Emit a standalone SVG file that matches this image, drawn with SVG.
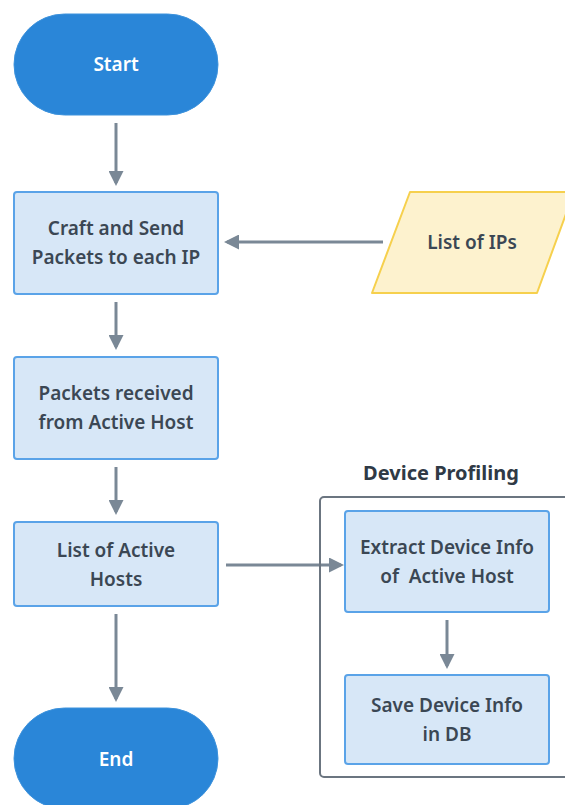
<svg xmlns="http://www.w3.org/2000/svg" width="565" height="805" viewBox="0 0 565 805">
<style>
.term{fill:#2A86D8;stroke:#3D92DC;stroke-width:1}
.proc{fill:#D7E7F7;stroke:#5AA3E8;stroke-width:2}
.data{fill:#FDF2CE;stroke:#F6D04D;stroke-width:2}
.grp{fill:none;stroke:#6B7580;stroke-width:2}
.t{font-family:"Noto Sans","DejaVu Sans",sans-serif;font-size:19px;font-weight:600;fill:#3B4754;text-anchor:middle;white-space:pre}
.h{font-family:"Noto Sans","DejaVu Sans",sans-serif;font-size:20px;font-weight:700;fill:#2F3A46;text-anchor:middle}
.tw{font-family:"Noto Sans","DejaVu Sans",sans-serif;font-size:19px;font-weight:600;fill:#FFFFFF;text-anchor:middle}
.c{stroke:#7A8896;stroke-width:3;fill:none;marker-end:url(#ah)}
</style>
<defs>
<marker id="ah" markerWidth="5" markerHeight="5" refX="4" refY="2.5" orient="auto" markerUnits="strokeWidth">
<path d="M0,0 L5,2.5 L0,5 Z" fill="#7A8896"/>
</marker>
</defs>
<rect width="565" height="805" fill="#FFFFFF"/>
<g id="connectors">
<line class="c" x1="116" y1="123" x2="116" y2="183"/>
<line class="c" x1="383" y1="242" x2="227" y2="242"/>
<line class="c" x1="116" y1="302" x2="116" y2="347"/>
<line class="c" x1="116" y1="467" x2="116" y2="512"/>
<line class="c" x1="226" y1="565" x2="341" y2="565"/>
<line class="c" x1="447" y1="620" x2="447" y2="666"/>
<line class="c" x1="116" y1="614" x2="116" y2="699"/>
</g>
<g id="device-profiling">
<rect class="grp" x="320" y="497" width="260" height="280" rx="4"/>
<text class="h" x="441" y="480">Device Profiling</text>
</g>
<g id="start">
<rect class="term" x="14" y="14" width="204" height="101" rx="50.5"/>
<text class="tw" x="116" y="71">Start</text>
</g>
<g id="craft">
<rect class="proc" x="14" y="192" width="204" height="102" rx="3"/>
<text class="t" x="116" y="235">Craft and Send</text>
<text class="t" x="116" y="264">Packets to each IP</text>
</g>
<g id="list-ips">
<path class="data" d="M410,192 L574,192 L537,293 L372,293 Z" stroke-linejoin="round"/>
<text class="t" x="472" y="249">List of IPs</text>
</g>
<g id="received">
<rect class="proc" x="14" y="357" width="204" height="102" rx="3"/>
<text class="t" x="116" y="400">Packets received</text>
<text class="t" x="116" y="429">from Active Host</text>
</g>
<g id="active-hosts">
<rect class="proc" x="14" y="522" width="204" height="84" rx="3"/>
<text class="t" x="116" y="557">List of Active</text>
<text class="t" x="116" y="586">Hosts</text>
</g>
<g id="extract">
<rect class="proc" x="345" y="511" width="204" height="101" rx="3"/>
<text class="t" x="447" y="554" xml:space="preserve">Extract Device Info</text>
<text class="t" x="447" y="583" xml:space="preserve">of  Active Host</text>
</g>
<g id="save">
<rect class="proc" x="345" y="675" width="204" height="89" rx="3"/>
<text class="t" x="447" y="712">Save Device Info</text>
<text class="t" x="447" y="741">in DB</text>
</g>
<g id="end">
<rect class="term" x="14" y="708" width="204" height="101" rx="50.5"/>
<text class="tw" x="116" y="766">End</text>
</g>
</svg>
